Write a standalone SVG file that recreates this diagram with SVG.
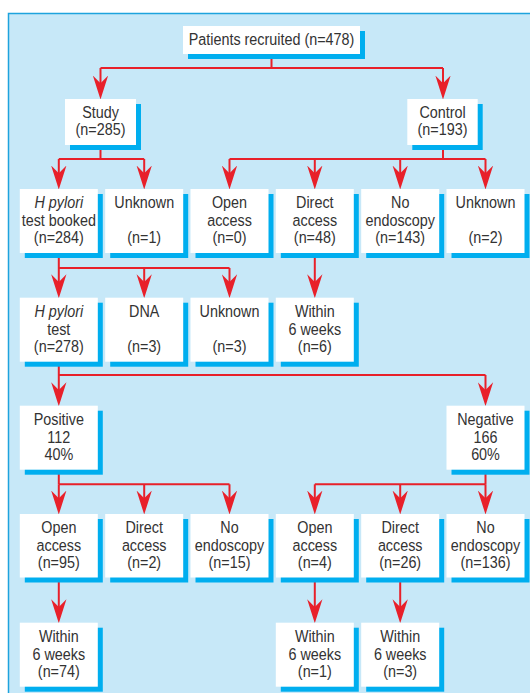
<svg xmlns="http://www.w3.org/2000/svg" width="530" height="693" viewBox="0 0 530 693">
<style>
.sh{fill:#00aeef}
.bx{fill:#ffffff}
.t{font-family:"Liberation Sans",Arial,sans-serif;font-size:17px;fill:#333333;text-anchor:middle}
.i{font-style:italic}
.c{fill:none;stroke:#e8202a;stroke-width:2}
</style>
<defs>
<marker id="ah" markerUnits="userSpaceOnUse" markerWidth="24" markerHeight="16" viewBox="0 0 22 14" refX="16" refY="7" orient="auto">
<path d="M0,0 L22,7 L0,14 L7,7 Z" fill="#e8202a"/>
</marker>
</defs>
<rect x="8.5" y="13.5" width="530" height="690" fill="#c7e8f8" stroke="#1ea3dd" stroke-width="1.5"/>

<g id="connectors">
<path class="c" d="M271.5,54 V68 M100.5,68 H443"/>
<path class="c" d="M100.5,68 V93" marker-end="url(#ah)"/>
<path class="c" d="M443,68 V93" marker-end="url(#ah)"/>
<path class="c" d="M100.5,145 V159 M58.8,159 H144.2"/>
<path class="c" d="M58.8,159 V183" marker-end="url(#ah)"/>
<path class="c" d="M144.2,159 V183" marker-end="url(#ah)"/>
<path class="c" d="M443,145 V159 M229.5,159 H485.5"/>
<path class="c" d="M229.5,159 V183" marker-end="url(#ah)"/>
<path class="c" d="M314.8,159 V183" marker-end="url(#ah)"/>
<path class="c" d="M400.2,159 V183" marker-end="url(#ah)"/>
<path class="c" d="M485.5,159 V183" marker-end="url(#ah)"/>
<path class="c" d="M58.8,253 V268 M58.8,268 H229.5"/>
<path class="c" d="M58.8,268 V291.7" marker-end="url(#ah)"/>
<path class="c" d="M144.2,268 V291.7" marker-end="url(#ah)"/>
<path class="c" d="M229.5,268 V291.7" marker-end="url(#ah)"/>
<path class="c" d="M314.8,253 V291.7" marker-end="url(#ah)"/>
<path class="c" d="M58.8,361.7 V375 M58.8,375 H485.5"/>
<path class="c" d="M58.8,375 V399.7" marker-end="url(#ah)"/>
<path class="c" d="M485.5,375 V399.7" marker-end="url(#ah)"/>
<path class="c" d="M58.8,469.3 V484.3 M58.8,484.3 H229.5"/>
<path class="c" d="M58.8,484.3 V508" marker-end="url(#ah)"/>
<path class="c" d="M144.2,484.3 V508" marker-end="url(#ah)"/>
<path class="c" d="M229.5,484.3 V508" marker-end="url(#ah)"/>
<path class="c" d="M485.5,469.3 V484.3 M314.8,484.3 H485.5"/>
<path class="c" d="M314.8,484.3 V508" marker-end="url(#ah)"/>
<path class="c" d="M400.2,484.3 V508" marker-end="url(#ah)"/>
<path class="c" d="M485.5,484.3 V508" marker-end="url(#ah)"/>
<path class="c" d="M58.8,577.5 V616.7" marker-end="url(#ah)"/>
<path class="c" d="M314.8,577.5 V616.7" marker-end="url(#ah)"/>
<path class="c" d="M400.2,577.5 V616.7" marker-end="url(#ah)"/>
</g>

<g id="recruited">
<rect class="sh" x="188" y="31" width="177" height="28"/>
<rect class="bx" x="183" y="26" width="177" height="28"/>
<text class="t" transform="translate(271.5,0) scale(0.845,1)"><tspan x="0" y="45.5">Patients recruited (n=478)</tspan></text>
</g>

<g id="study">
<rect class="sh" x="70" y="104" width="71" height="46"/>
<rect class="bx" x="65" y="99" width="71" height="46"/>
<text class="t" transform="translate(100.5,0) scale(0.845,1)"><tspan x="0" y="118.3">Study</tspan><tspan x="0" y="135.5">(n=285)</tspan></text>
</g>

<g id="control">
<rect class="sh" x="412.3" y="104" width="70.4" height="46"/>
<rect class="bx" x="407.3" y="99" width="70.4" height="46"/>
<text class="t" transform="translate(442.5,0) scale(0.845,1)"><tspan x="0" y="118.3">Control</tspan><tspan x="0" y="135.5">(n=193)</tspan></text>
</g>

<!-- Row 3 -->
<g id="hp-booked">
<rect class="sh" x="24.8" y="194" width="78" height="64"/>
<rect class="bx" x="19.8" y="189" width="78" height="64"/>
<text class="t" transform="translate(58.8,0) scale(0.845,1)"><tspan x="0" y="208.5" class="i">H pylori</tspan><tspan x="0" y="226">test booked</tspan><tspan x="0" y="243.3">(n=284)</tspan></text>
</g>
<g id="study-unknown">
<rect class="sh" x="110.2" y="194" width="78" height="64"/>
<rect class="bx" x="105.2" y="189" width="78" height="64"/>
<text class="t" transform="translate(144.2,0) scale(0.845,1)"><tspan x="0" y="208.5">Unknown</tspan><tspan x="0" y="243.3">(n=1)</tspan></text>
</g>
<g id="ctrl-open">
<rect class="sh" x="195.5" y="194" width="78" height="64"/>
<rect class="bx" x="190.5" y="189" width="78" height="64"/>
<text class="t" transform="translate(229.5,0) scale(0.845,1)"><tspan x="0" y="208.5">Open</tspan><tspan x="0" y="226">access</tspan><tspan x="0" y="243.3">(n=0)</tspan></text>
</g>
<g id="ctrl-direct">
<rect class="sh" x="280.8" y="194" width="78" height="64"/>
<rect class="bx" x="275.8" y="189" width="78" height="64"/>
<text class="t" transform="translate(314.8,0) scale(0.845,1)"><tspan x="0" y="208.5">Direct</tspan><tspan x="0" y="226">access</tspan><tspan x="0" y="243.3">(n=48)</tspan></text>
</g>
<g id="ctrl-noendo">
<rect class="sh" x="366.2" y="194" width="78" height="64"/>
<rect class="bx" x="361.2" y="189" width="78" height="64"/>
<text class="t" transform="translate(400.2,0) scale(0.845,1)"><tspan x="0" y="208.5">No</tspan><tspan x="0" y="226">endoscopy</tspan><tspan x="0" y="243.3">(n=143)</tspan></text>
</g>
<g id="ctrl-unknown">
<rect class="sh" x="451.5" y="194" width="78" height="64"/>
<rect class="bx" x="446.5" y="189" width="78" height="64"/>
<text class="t" transform="translate(485.5,0) scale(0.845,1)"><tspan x="0" y="208.5">Unknown</tspan><tspan x="0" y="243.3">(n=2)</tspan></text>
</g>

<!-- Row 4 -->
<g id="hp-test">
<rect class="sh" x="24.8" y="302.7" width="78" height="64"/>
<rect class="bx" x="19.8" y="297.7" width="78" height="64"/>
<text class="t" transform="translate(58.8,0) scale(0.845,1)"><tspan x="0" y="317.2" class="i">H pylori</tspan><tspan x="0" y="334.7">test</tspan><tspan x="0" y="352">(n=278)</tspan></text>
</g>
<g id="dna">
<rect class="sh" x="110.2" y="302.7" width="78" height="64"/>
<rect class="bx" x="105.2" y="297.7" width="78" height="64"/>
<text class="t" transform="translate(144.2,0) scale(0.845,1)"><tspan x="0" y="317.2">DNA</tspan><tspan x="0" y="352">(n=3)</tspan></text>
</g>
<g id="test-unknown">
<rect class="sh" x="195.5" y="302.7" width="78" height="64"/>
<rect class="bx" x="190.5" y="297.7" width="78" height="64"/>
<text class="t" transform="translate(229.5,0) scale(0.845,1)"><tspan x="0" y="317.2">Unknown</tspan><tspan x="0" y="352">(n=3)</tspan></text>
</g>
<g id="ctrl-within">
<rect class="sh" x="280.8" y="302.7" width="78" height="64"/>
<rect class="bx" x="275.8" y="297.7" width="78" height="64"/>
<text class="t" transform="translate(314.8,0) scale(0.845,1)"><tspan x="0" y="317.2">Within</tspan><tspan x="0" y="334.7">6 weeks</tspan><tspan x="0" y="352">(n=6)</tspan></text>
</g>

<!-- Row 5 -->
<g id="positive">
<rect class="sh" x="24.8" y="410.7" width="78" height="64"/>
<rect class="bx" x="19.8" y="405.7" width="78" height="64"/>
<text class="t" transform="translate(58.8,0) scale(0.845,1)"><tspan x="0" y="425.2">Positive</tspan><tspan x="0" y="442.7">112</tspan><tspan x="0" y="460">40%</tspan></text>
</g>
<g id="negative">
<rect class="sh" x="451.5" y="410.7" width="78" height="64"/>
<rect class="bx" x="446.5" y="405.7" width="78" height="64"/>
<text class="t" transform="translate(485.5,0) scale(0.845,1)"><tspan x="0" y="425.2">Negative</tspan><tspan x="0" y="442.7">166</tspan><tspan x="0" y="460">60%</tspan></text>
</g>

<!-- Row 6 -->
<g id="pos-open">
<rect class="sh" x="24.8" y="519" width="78" height="63.5"/>
<rect class="bx" x="19.8" y="514" width="78" height="63.5"/>
<text class="t" transform="translate(58.8,0) scale(0.845,1)"><tspan x="0" y="533.5">Open</tspan><tspan x="0" y="551">access</tspan><tspan x="0" y="568.3">(n=95)</tspan></text>
</g>
<g id="pos-direct">
<rect class="sh" x="110.2" y="519" width="78" height="63.5"/>
<rect class="bx" x="105.2" y="514" width="78" height="63.5"/>
<text class="t" transform="translate(144.2,0) scale(0.845,1)"><tspan x="0" y="533.5">Direct</tspan><tspan x="0" y="551">access</tspan><tspan x="0" y="568.3">(n=2)</tspan></text>
</g>
<g id="pos-noendo">
<rect class="sh" x="195.5" y="519" width="78" height="63.5"/>
<rect class="bx" x="190.5" y="514" width="78" height="63.5"/>
<text class="t" transform="translate(229.5,0) scale(0.845,1)"><tspan x="0" y="533.5">No</tspan><tspan x="0" y="551">endoscopy</tspan><tspan x="0" y="568.3">(n=15)</tspan></text>
</g>
<g id="neg-open">
<rect class="sh" x="280.8" y="519" width="78" height="63.5"/>
<rect class="bx" x="275.8" y="514" width="78" height="63.5"/>
<text class="t" transform="translate(314.8,0) scale(0.845,1)"><tspan x="0" y="533.5">Open</tspan><tspan x="0" y="551">access</tspan><tspan x="0" y="568.3">(n=4)</tspan></text>
</g>
<g id="neg-direct">
<rect class="sh" x="366.2" y="519" width="78" height="63.5"/>
<rect class="bx" x="361.2" y="514" width="78" height="63.5"/>
<text class="t" transform="translate(400.2,0) scale(0.845,1)"><tspan x="0" y="533.5">Direct</tspan><tspan x="0" y="551">access</tspan><tspan x="0" y="568.3">(n=26)</tspan></text>
</g>
<g id="neg-noendo">
<rect class="sh" x="451.5" y="519" width="78" height="63.5"/>
<rect class="bx" x="446.5" y="514" width="78" height="63.5"/>
<text class="t" transform="translate(485.5,0) scale(0.845,1)"><tspan x="0" y="533.5">No</tspan><tspan x="0" y="551">endoscopy</tspan><tspan x="0" y="568.3">(n=136)</tspan></text>
</g>

<!-- Row 7 -->
<g id="pos-within">
<rect class="sh" x="24.8" y="627.7" width="78" height="64"/>
<rect class="bx" x="19.8" y="622.7" width="78" height="64"/>
<text class="t" transform="translate(58.8,0) scale(0.845,1)"><tspan x="0" y="642.2">Within</tspan><tspan x="0" y="659.7">6 weeks</tspan><tspan x="0" y="677">(n=74)</tspan></text>
</g>
<g id="neg-open-within">
<rect class="sh" x="280.8" y="627.7" width="78" height="64"/>
<rect class="bx" x="275.8" y="622.7" width="78" height="64"/>
<text class="t" transform="translate(314.8,0) scale(0.845,1)"><tspan x="0" y="642.2">Within</tspan><tspan x="0" y="659.7">6 weeks</tspan><tspan x="0" y="677">(n=1)</tspan></text>
</g>
<g id="neg-direct-within">
<rect class="sh" x="366.2" y="627.7" width="78" height="64"/>
<rect class="bx" x="361.2" y="622.7" width="78" height="64"/>
<text class="t" transform="translate(400.2,0) scale(0.845,1)"><tspan x="0" y="642.2">Within</tspan><tspan x="0" y="659.7">6 weeks</tspan><tspan x="0" y="677">(n=3)</tspan></text>
</g>
</svg>
